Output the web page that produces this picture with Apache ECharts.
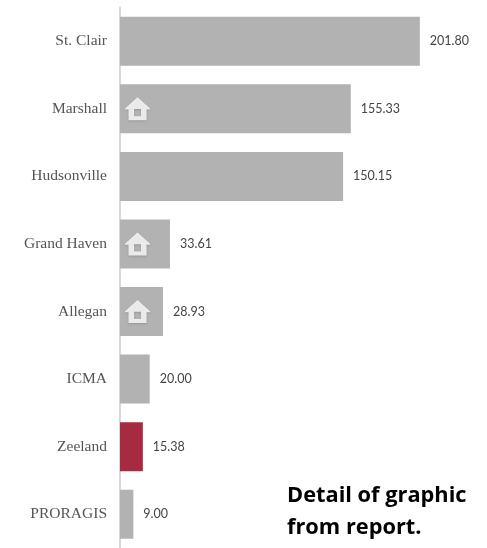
<!DOCTYPE html>
<html>
<head>
<meta charset="utf-8">
<style>html,body{margin:0;padding:0;background:#fff}#chart{width:487px;height:548px}</style>
<script src="https://cdn.jsdelivr.net/npm/echarts@6/dist/echarts.min.js"></script>
</head>
<body>
<div id="chart"></div>
<script>
// Communities ranked by value, largest first
const categories = ['St. Clair','Marshall','Hudsonville','Grand Haven','Allegan','ICMA','Zeeland','PRORAGIS'];
const values = [201.80,155.33,150.15,33.61,28.93,20.00,15.38,9.00];
const highlighted = ['Zeeland'];
const withHomeIcon = ['Marshall','Grand Haven','Allegan'];
const homeIconAnchor = 11.8;
const note = 'Detail of graphic\nfrom report.';

const housePath = 'path://M12.5 0 L25 11 L25 12 L21.5 12 L21.5 22.5 L3.5 22.5 L3.5 12 L0 12 L0 11 Z M9 11.5 L9 18.5 L16 18.5 L16 11.5 Z';

const chart = echarts.init(document.getElementById('chart'), null, {renderer:'canvas'});
chart.setOption({
  animation:false,
  backgroundColor:'#fff',
  grid:{left:120, top:7.5, width:356.6, height:544, containLabel:false},
  xAxis:{type:'value', min:0, max:240, show:false},
  yAxis:{
    type:'category', data:categories, inverse:true,
    axisLine:{show:true, lineStyle:{color:'#d9d9d9', width:2}},
    axisTick:{show:false},
    axisLabel:{fontFamily:'Liberation Serif', fontSize:15.5, color:'#555', margin:13, verticalAlign:'middle', lineHeight:16, padding:[0,0,2,0]}
  },
  series:[
    {
      type:'bar', barWidth:49, z:2,
      data:values.map((v,i)=>({
        value:v,
        itemStyle:{color:highlighted.includes(categories[i]) ? '#a62a40' : '#b2b2b2'}
      })),
      label:{
        show:true, position:'right', distance:10,
        formatter:p=>p.value.toFixed(2),
        fontFamily:'Lato', fontSize:12.5, color:'#444', letterSpacing:0.6
      }
    },
    {
      type:'scatter', z:3, symbol:housePath, symbolSize:[25,23], silent:true,
      itemStyle:{color:'#fff', shadowColor:'rgba(90,90,90,0.4)', shadowBlur:2, shadowOffsetY:1},
      data:withHomeIcon.map(c=>[homeIconAnchor,c])
    }
  ],
  graphic:[{
    type:'text', left:287, top:480,
    style:{text:note, font:'bold 21.8px "Open Sans"', fill:'#000', lineHeight:32}
  }]
});
</script>
</body>
</html>
